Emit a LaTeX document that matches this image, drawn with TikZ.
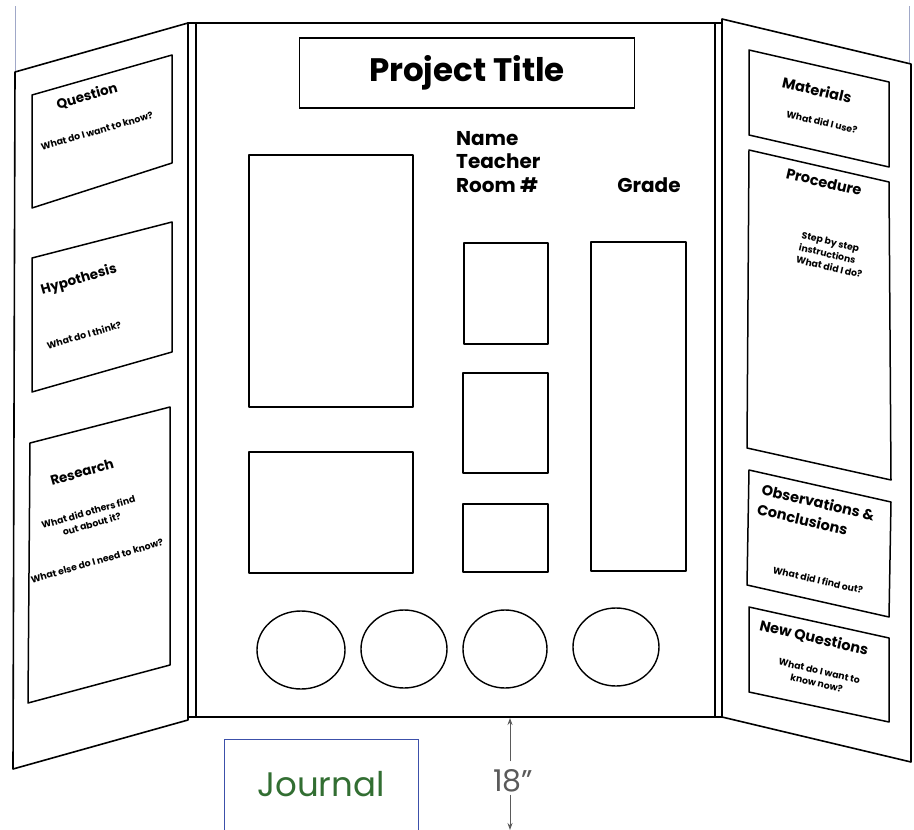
\documentclass[tikz,border=0pt]{standalone}
\usepackage{fontspec}
\setmainfont{Poppins}
\usetikzlibrary{arrows.meta}
\definecolor{journalblue}{RGB}{60,80,170}
\definecolor{journalgreen}{RGB}{50,110,50}
\definecolor{framegray}{RGB}{160,168,200}
\definecolor{dimgray}{RGB}{90,90,90}
\begin{document}
\begin{tikzpicture}[x=1pt,y=-1pt,
  panel/.style={draw=black,line width=1.6pt,fill=white,line join=round},
  card/.style={draw=black,line width=1.5pt,line join=round},
  head/.style={font=\bfseries\fontsize{13.5}{15}\selectfont,inner sep=0pt},
  rhead/.style={font=\bfseries\fontsize{14.5}{20}\selectfont,inner sep=0pt},
  sub/.style={font=\bfseries\fontsize{9.3}{12.5}\selectfont,inner sep=0pt,align=center},
  spot/.style={draw=black,line width=1.4pt},
]
\useasboundingbox (0,0) rectangle (914,830);

% thin frame remnants
\draw[framegray,line width=0.7pt] (15,6) -- (15,72);
\draw[framegray,line width=0.7pt] (909,6) -- (909,64);

% panels
\draw[panel] (15,72) -- (188,23) -- (188,720) -- (13,769) -- cycle;
\draw[panel] (722,19) -- (911,64) -- (911,762) -- (722,717) -- cycle;
\draw[panel] (188,23) rectangle (722,717);
\draw[line width=1.6pt] (196,23) -- (196,717);
\draw[line width=1.6pt] (715,23) -- (715,717);

% left panel cards
\draw[card] (32,95) -- (172,55) -- (172,163) -- (32,208) -- cycle;
\draw[card] (32,258) -- (172,222) -- (172,352) -- (32,392) -- cycle;
\draw[card] (30,443) -- (170,407) -- (170,665) -- (28,703) -- cycle;

\node[head,rotate=16] (qhead) at (87,96) {Question};
\node[sub,rotate=16] (qsub) at (97,131) {What do I want to know?};
\node[head,rotate=16] (hhead) at (79,280) {Hypothesis};
\node[sub,rotate=16] (hsub) at (84,335) {What do I think?};
\node[head,rotate=16] (rhead) at (82,472) {Research};
\node[sub,rotate=16] (rsub1) at (90,518) {What did others find\\ out about it?};
\node[sub,rotate=16] (rsub2) at (97,561) {What else do I need to know?};

% right panel cards
\draw[card] (749,50) -- (889,82) -- (889,167) -- (749,135) -- cycle;
\draw[card] (749,150) -- (889,182) -- (891,480) -- (747,448) -- cycle;
\draw[card] (749,470) -- (891,502) -- (889,617) -- (747,585) -- cycle;
\draw[card] (749,607) -- (889,638) -- (889,722) -- (749,692) -- cycle;

\node[rhead,rotate=-13] (mhead) at (817,90) {Materials};
\node[sub,rotate=-13] (msub) at (822,122) {What did I use?};
\node[rhead,rotate=-13] (phead) at (824,182) {Procedure};
\node[sub,rotate=-13,align=left] (psub) at (832,255) {Step by step\\ instructions\\ What did I do?};
\node[rhead,rotate=-13,align=left] (ohead) at (816,512) {Observations \&\\ Conclusions};
\node[sub,rotate=-13] (osub) at (818,580) {What did I find out?};
\node[rhead,rotate=-13] (nhead) at (814,638) {New Questions};
\node[sub,rotate=-13] (nsub) at (818,677) {What do I want to\\ know now?};

% center panel
\node[draw=black,line width=1.5pt,minimum width=335,minimum height=70,
      font=\bfseries\fontsize{32.5}{36}\selectfont] (title) at (467,73) {Project Title};
\node[anchor=west,align=left,inner sep=0pt,
      font=\bfseries\fontsize{20}{23.5}\selectfont] (who) at (456,162) {Name\\Teacher\\Room \#};
\node[inner sep=0pt,font=\bfseries\fontsize{20}{23.5}\selectfont] (grade) at (649,185) {Grade};

\draw[card] (249,155) rectangle (413,407);
\draw[card] (249,452) rectangle (413,573);
\draw[card] (464,243) rectangle (548,344);
\draw[card] (463,373) rectangle (548,473);
\draw[card] (463,504) rectangle (548,572);
\draw[card] (591,242) rectangle (686,571);

\draw[spot] (301,650) ellipse [x radius=44, y radius=39];
\draw[spot] (404,649) ellipse [x radius=43, y radius=39];
\draw[spot] (505,649) ellipse [x radius=42, y radius=39];
\draw[spot] (616,647) ellipse [x radius=43, y radius=39];

% journal
\draw[journalblue,line width=1pt] (224,832) -- (224,739) -- (418,739) -- (418,832);
\node[text=journalgreen,font=\fontsize{34}{38}\selectfont] (journal) at (321,784) {Journal};

% dimension
\coordinate (dimtop) at (510,718);
\coordinate (dimbot) at (510,830);
\node[text=dimgray,font=\fontsize{30}{34}\selectfont,inner sep=2pt] (dim) at (513,781) {18"};
\draw[dimgray,line width=0.9pt,-{Stealth[length=7pt,width=5pt]},shorten <=6pt] (dim.north -| dimtop) -- (dimtop);
\draw[dimgray,line width=0.9pt,-{Stealth[length=7pt,width=5pt]}] (dim.south -| dimbot) -- (dimbot);
\end{tikzpicture}
\end{document}
